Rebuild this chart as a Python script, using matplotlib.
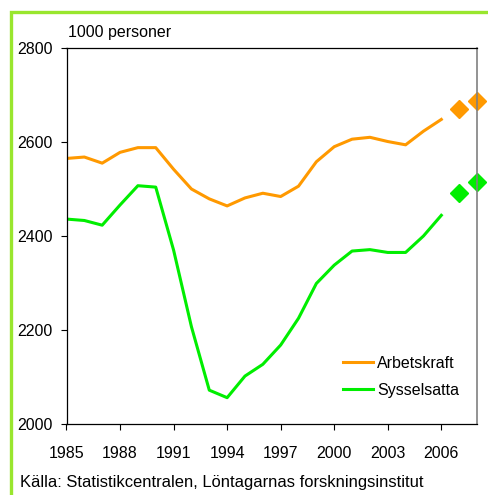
import matplotlib.pyplot as plt
from matplotlib.patches import Rectangle

plt.rcParams['font.family'] = ['Liberation Sans', 'DejaVu Sans']

years = list(range(1985, 2007))
arbetskraft = [2565, 2568, 2555, 2578, 2588, 2588, 2542, 2500, 2479, 2464, 2481,
               2491, 2484, 2506, 2558, 2590, 2606, 2610, 2601, 2594, 2623, 2648]
sysselsatta = [2436, 2433, 2423, 2466, 2507, 2504, 2370, 2207, 2072, 2056, 2102,
               2127, 2168, 2225, 2299, 2338, 2368, 2371, 2365, 2365, 2400, 2444]

prognos_years = [2007, 2008]
arbetskraft_prognos = [2670, 2687]
sysselsatta_prognos = [2491, 2515]

xticks = list(range(1985, 2007, 3))
yticks = [2000, 2200, 2400, 2600, 2800]

ORANGE = '#ff9900'
GREEN = '#00ee00'
W, H = 488, 495

fig = plt.figure(figsize=(W / 100, H / 100), dpi=100)
ax = fig.add_axes([66.5 / W, 1 - 424 / H, (477 - 66.5) / W, (424 - 48) / H])

ax.plot(years, arbetskraft, color=ORANGE, lw=2.2, label='Arbetskraft')
ax.plot(years, sysselsatta, color=GREEN, lw=2.2, label='Sysselsatta')
ax.plot(prognos_years, arbetskraft_prognos, 'D', color=ORANGE, ms=8.8, clip_on=False)
ax.plot(prognos_years, sysselsatta_prognos, 'D', color=GREEN, ms=8.8, clip_on=False)

ax.set_xlim(1985, 2008)
ax.set_ylim(2000, 2800)
ax.set_xticks(xticks)
ax.set_yticks(yticks)
ax.tick_params(axis='both', direction='out', length=4, width=0.8, labelsize=11.5)
ax.tick_params(axis='x', pad=12)
ax.tick_params(axis='y', pad=6)
for side in ['left', 'top', 'bottom']:
    ax.spines[side].set_linewidth(0.9)
ax.spines['right'].set_color('#808080')
ax.spines['right'].set_linewidth(1.2)

ax.legend(loc='upper left', bbox_to_anchor=(343 / W, 1 - 356 / H),
          bbox_transform=fig.transFigure, frameon=False, fontsize=11.5,
          handlelength=1.9, handletextpad=0.25, labelspacing=0.75,
          borderpad=0, borderaxespad=0)

fig.text(68 / W, 1 - 33 / H, '1000 personer', fontsize=11.5, va='center')
fig.text(20 / W, 1 - 483 / H,
         'Källa: Statistikcentralen, Löntagarnas forskningsinstitut',
         fontsize=11.9, va='center')

# green frame round the whole chart (cut off at right and bottom)
fig.patches.append(Rectangle((11 / W, -0.1), 1.2, 1 - 11.7 / H + 0.1,
                             transform=fig.transFigure, fill=False,
                             edgecolor='#99e62e', lw=2.4))

fig.savefig('out.png', dpi=100)
